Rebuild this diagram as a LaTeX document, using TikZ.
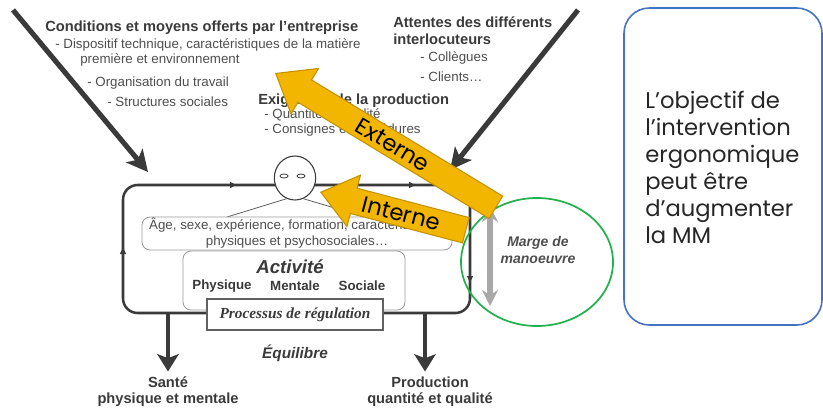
\documentclass[tikz,border=0pt]{standalone}
\usepackage{fontspec}
\setmainfont{Liberation Sans}
\newfontfamily\timesfont{Liberation Serif}
\newfontfamily\gothfont{Poppins}
\usetikzlibrary{arrows.meta,shapes.arrows,shapes.geometric,positioning}
\definecolor{ink}{RGB}{58,58,58}
\definecolor{softink}{RGB}{78,78,78}
\definecolor{gold}{RGB}{243,182,0}
\definecolor{goldline}{RGB}{196,146,0}
\definecolor{mmgreen}{RGB}{34,177,76}
\definecolor{mmblue}{RGB}{68,114,196}
\definecolor{mmgray}{RGB}{168,168,168}
\tikzset{
  headtext/.style={anchor=west,inner sep=0pt,text=ink,font=\fontsize{11}{13}\selectfont\bfseries},
  itemtext/.style={anchor=west,inner sep=0pt,text=softink,font=\fontsize{10}{12}\selectfont},
  outtext/.style={inner sep=0pt,align=center,text=ink,font=\fontsize{11}{12}\selectfont\bfseries},
  heavy/.style={line width=3.8pt,draw=ink,-{Stealth[length=16pt,width=16pt,inset=4pt]}},
  downarrow/.style={line width=3pt,draw=ink,-{Stealth[length=13pt,width=16pt,inset=3pt]}},
  loopline/.style={line width=1.9pt,draw=ink},
  loopmark/.style={loopline,-{Latex[length=6pt,width=5pt]}},
  softbox/.style={draw=black!40,line width=0.6pt,rounded corners=6pt,fill=white,inner sep=0pt},
  flag/.style={single arrow,shape border rotate=180,draw=goldline,fill=gold,line width=0.8pt,
    single arrow head extend=10.1pt,single arrow tip angle=76,single arrow head indent=0pt,
    inner xsep=0pt,inner ysep=3.4pt,text height=12pt,text depth=0pt,anchor=tip,
    font=\gothfont\fontsize{17}{17}\selectfont,text=black},
}
\begin{document}
\begin{tikzpicture}[x=0.75pt,y=-0.75pt]
\useasboundingbox (0,0) rectangle (823,410);

% influences on the operator
\node[headtext] (cond) at (45,28) {Conditions et moyens offerts par l’entreprise};
\node[itemtext] (cond1) at (55,45) {- Dispositif technique, caractéristiques de la matière};
\node[itemtext] (cond2) at (80,60) {première et environnement};
\node[itemtext] (cond3) at (87,83) {- Organisation du travail};
\node[itemtext] (cond4) at (107,102) {- Structures sociales};
\node[headtext] (att) at (393,22) {Attentes des différents};
\node[headtext] (att0) at (393,39) {interlocuteurs};
\node[itemtext] (att1) at (420,58) {- Collègues};
\node[itemtext] (att2) at (420,77) {- Clients…};
\node[headtext] (exi) at (258,101) {Exigences de la production};
\node[itemtext] (exi1) at (264,115) {- Quantité et qualité};
\node[itemtext] (exi2) at (264,130) {- Consignes et procédures};

\coordinate (srcl) at (13,10);
\coordinate (tipl) at (148,172);
\coordinate (srcr) at (578,10);
\coordinate (tipr) at (450,170);
\draw[heavy] (srcl) -- (tipl);
\draw[heavy] (srcr) -- (tipr);

% regulation loop
\draw[loopline,rounded corners=11pt] (123,250) -- (123,185) -- (470,185) -- (470,313) -- (123,313) -- cycle;
\draw[loopmark] (123,262) -- (123,246);
\draw[loopmark] (224,185) -- (238,185);
\draw[loopmark] (403,185) -- (417,185);
\draw[loopmark] (470,270) -- (470,284);

% operator
\node (face) [ellipse,draw=ink,fill=white,line width=0.8pt,inner sep=0pt,minimum width=31pt,minimum height=33pt] at (295,178) {};
\draw[ink,line width=0.6pt] (284,176) ellipse [x radius=4, y radius=2];
\draw[ink,line width=0.6pt] (301,176) ellipse [x radius=4, y radius=2];
\draw[ink!80,line width=0.6pt] (face.-112) -- (227,217);
\draw[ink!80,line width=0.6pt] (face.-68) -- (365,217);

\node (traits) [softbox,minimum width=232.5pt,minimum height=24.75pt,align=center,text=softink,
  font=\fontsize{10}{12}\selectfont] at (297,233.5) {Âge, sexe, expérience, formation, caractéristiques\\physiques et psychosociales…};
\node (act) [softbox,minimum width=166.5pt,minimum height=44.25pt] at (294,280.5) {};
\node (actl) [text=ink,font=\fontsize{14}{16}\selectfont\bfseries\itshape] at (290,267) {Activité};
\node (phys) [text=ink,font=\fontsize{10}{12}\selectfont\bfseries] at (222,286) {Physique};
\node (ment) [text=ink,font=\fontsize{10}{12}\selectfont\bfseries] at (295,286) {Mentale};
\node (soc) [text=ink,font=\fontsize{10}{12}\selectfont\bfseries] at (362,286) {Sociale};
\node (proc) [draw=ink!80,fill=white,line width=0.8pt,minimum width=132pt,minimum height=23.25pt,
  text=ink,font=\timesfont\fontsize{11.5}{13}\selectfont\bfseries\itshape] at (295,314.5) {Processus de régulation};
\node (equi) [text=ink,font=\fontsize{11.5}{13}\selectfont\bfseries\itshape] at (295,353) {Équilibre};

% outcomes
\coordinate (outl) at (168,313);
\coordinate (outr) at (425,313);
\node[outtext] (sante) at (168,392) {Santé\\physique et mentale};
\node[outtext] (prod) at (430,392) {Production\\quantité et qualité};
\draw[downarrow] (outl) -- ([yshift=4pt]outl |- sante.north);
\draw[downarrow] (outr) -- ([yshift=4pt]outr |- prod.north);

% marge de manoeuvre
\draw[mmgray,line width=4pt,{Stealth[length=12pt,width=12pt]}-{Stealth[length=12pt,width=12pt]}] (490,206) -- (490,306);
\draw[mmgreen,line width=1.3pt] (537,262) ellipse [x radius=76, y radius=64];
\node (marge) [align=center,text=ink!90,font=\fontsize{10.5}{12.75}\selectfont\bfseries\itshape] at (538,250) {Marge de\\manoeuvre};

% external and internal loops
\node (ext) [flag,rotate=-31.3,minimum height=193.2pt] at (275,73) {Externe};
\node (int) [flag,rotate=-14.7,minimum height=112.4pt] at (320,192) {Interne};

% objective
\node (goal) [draw=mmblue,line width=1.2pt,rounded corners=19pt,minimum width=148.5pt,minimum height=237.75pt] at (723,166.5) {};
\node (goaltext) [anchor=west,align=left,inner sep=0pt,text=black!85,font=\gothfont\fontsize{17}{20.25}\selectfont] at (645,167)
  {L’objectif de\\l’intervention\\ergonomique\\peut être\\d’augmenter\\la MM};
\end{tikzpicture}
\end{document}
